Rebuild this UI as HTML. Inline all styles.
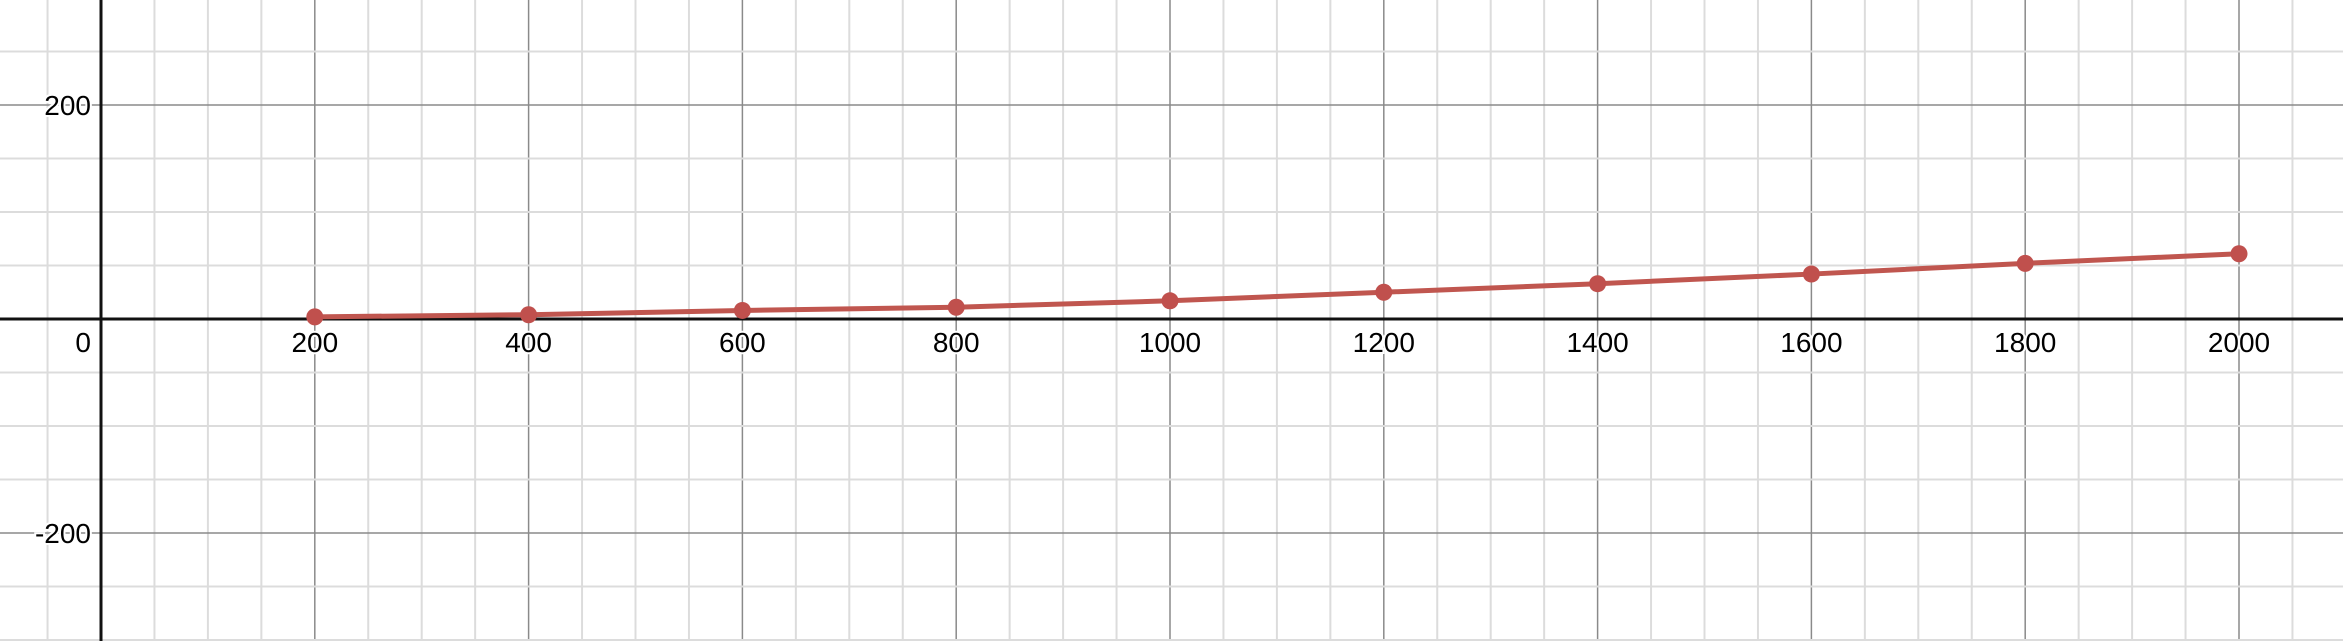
<!DOCTYPE html>
<html><head><meta charset="utf-8"><style>
html,body{margin:0;padding:0;background:#fff;overflow:hidden;width:2343px;height:641px;}
svg{display:block;font-family:"Liberation Sans",Arial,sans-serif;}
</style></head><body>
<svg id="chart" width="2343" height="641"></svg>
<script>
const xValues=[200,400,600,800,1000,1200,1400,1600,1800,2000];
const yValues=[2,4,8,11,17,25,33,42,52,61];
const xTickLabels=[200,400,600,800,1000,1200,1400,1600,1800,2000];
const yTickLabels=[200,-200];

const NS="http://www.w3.org/2000/svg";
const svg=document.getElementById('chart');
const W=2343,H=641;
const X0=101, KX=(2239-101)/2000, Y0=319, KY=1.07;
function sx(v){return X0+v*KX;}
function sy(v){return Y0-v*KY;}
function mk(tag,attrs,parent){const e=document.createElementNS(NS,tag);for(const k in attrs)e.setAttribute(k,attrs[k]);(parent||svg).appendChild(e);return e;}

const grid=mk('g',{});


for(let v=-100;v<=2200;v+=50){
  const p=sx(v); if(p<0||p>W) continue;
  const major=v%200===0;
  const l=mk('line',{x1:p,x2:p,y1:0,y2:H,stroke:major?'#8a8a8a':'#dcdcdc','stroke-width':major?1.5:2},grid);
  
  
}
for(let v=-350;v<=350;v+=50){
  const p=sy(v); if(p<0||p>H) continue;
  const major=v%200===0;
  const l=mk('line',{x1:0,x2:W,y1:p,y2:p,stroke:major?'#8a8a8a':'#dcdcdc','stroke-width':major?1.5:2},grid);
  
  
}
const xa=mk('line',{x1:0,x2:W,y1:sy(0),y2:sy(0),stroke:'#111','stroke-width':3});


const ya=mk('line',{x1:sx(0),x2:sx(0),y1:0,y2:H,stroke:'#111','stroke-width':3});



xTickLabels.forEach(v=>{
  const t=mk('text',{x:sx(v),y:sy(0)+33,'text-anchor':'middle','font-size':28,fill:'#000',stroke:'#fff','stroke-width':4,'paint-order':'stroke'});
  t.textContent=v;
  
  
});
yTickLabels.forEach(v=>{
  const t=mk('text',{x:sx(0)-10,y:sy(v)+10,'text-anchor':'end','font-size':28,fill:'#000',stroke:'#fff','stroke-width':4,'paint-order':'stroke'});
  t.textContent=v;
  
  
});
const z=mk('text',{x:sx(0)-10,y:sy(0)+33,'text-anchor':'end','font-size':28,fill:'#000'});
z.textContent='0';



const pts=xValues.map((x,i)=>sx(x)+','+sy(yValues[i])).join(' ');
const line=mk('polyline',{points:pts,fill:'none',stroke:'#c0564f','stroke-width':5,'stroke-linejoin':'round'});


xValues.forEach((x,i)=>{
  const c=mk('circle',{cx:sx(x),cy:sy(yValues[i]),r:8.5,fill:'#c0504d'});
  
  
});
</script>
</body></html>
